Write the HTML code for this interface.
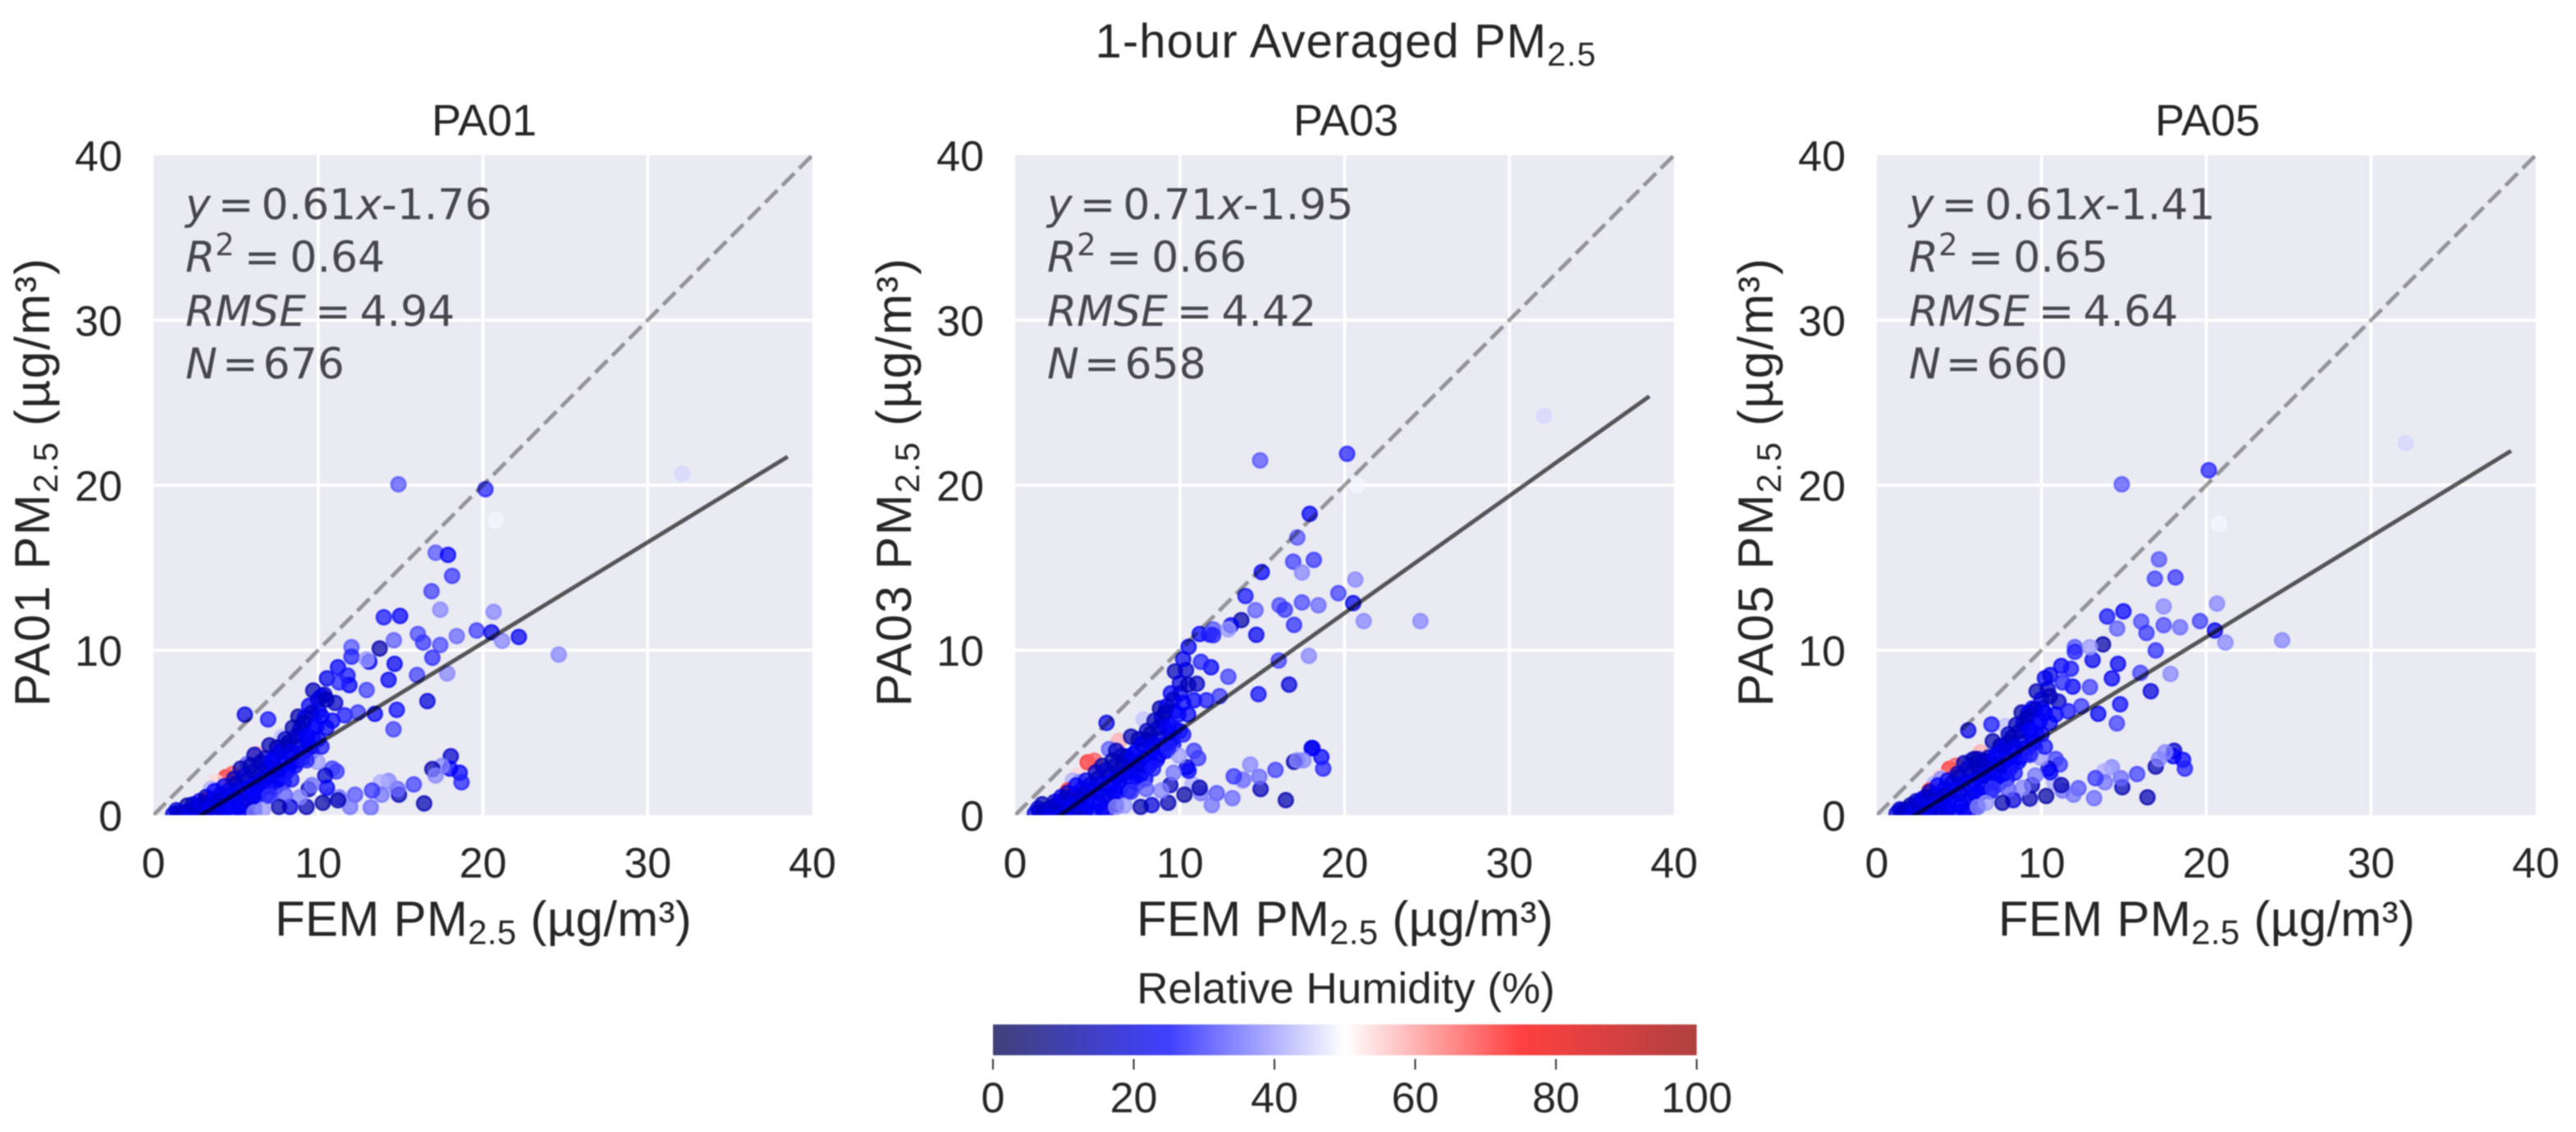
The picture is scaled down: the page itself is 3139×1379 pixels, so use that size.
<!DOCTYPE html>
<html lang="en">
<head>
<meta charset="utf-8">
<title>1-hour Averaged PM2.5</title>
<style>
html,body{margin:0;padding:0;background:#fff;width:3139px;height:1379px;overflow:hidden}
svg{display:block;filter:blur(0.9px)}
text{font-family:"Liberation Sans",Arial,sans-serif;fill:#262626}
.stat{font-family:"DejaVu Sans",sans-serif;font-size:52px;fill:#46464c}
.axlab{font-size:60px;letter-spacing:0.3px;text-anchor:middle}
.ylab{font-size:60px;letter-spacing:1.6px;text-anchor:middle}
.ptitle{font-size:54px;text-anchor:middle}
.tick{font-size:52px}
</style>
</head>
<body>
<svg id="figure" xmlns="http://www.w3.org/2000/svg" width="3139" height="1379" viewBox="0 0 3139 1379">
  <rect x="0" y="0" width="3139" height="1379" fill="#ffffff"/>
  <defs id="defs"></defs>
  <text x="1640" y="70" text-anchor="middle" font-size="58" letter-spacing="1.1">1-hour Averaged PM<tspan dy="10" font-size="41">2.5</tspan></text>

  <g id="panels"></g>

  <g>
    <text class="ptitle" x="590" y="165">PA01</text>
    <text class="axlab" x="589" y="1140">FEM PM<tspan dy="10" font-size="42">2.5</tspan><tspan dy="-10"> (µg/m³)</tspan></text>
    <text class="ylab" transform="translate(60,587) rotate(-90)">PA01 PM<tspan dy="10" font-size="42">2.5</tspan><tspan dy="-10"> (µg/m³)</tspan></text>
    <text class="stat" x="226" y="267"><tspan font-style="italic">y</tspan><tspan dx="9">=</tspan><tspan dx="9">0.61</tspan><tspan font-style="italic">x</tspan>-1.76</text>
    <text class="stat" x="226" y="331"><tspan font-style="italic">R</tspan><tspan dy="-20" font-size="37">2</tspan><tspan dy="20" dx="12">=</tspan><tspan dx="12">0.64</tspan></text>
    <text class="stat" x="226" y="397"><tspan font-style="italic">RMSE</tspan><tspan dx="11">=</tspan><tspan dx="11">4.94</tspan></text>
    <text class="stat" x="226" y="461"><tspan font-style="italic">N</tspan><tspan dx="6">=</tspan><tspan dx="6">676</tspan></text>
  </g>
  <g>
    <text class="ptitle" x="1640" y="165">PA03</text>
    <text class="axlab" x="1639" y="1140">FEM PM<tspan dy="10" font-size="42">2.5</tspan><tspan dy="-10"> (µg/m³)</tspan></text>
    <text class="ylab" transform="translate(1110,587) rotate(-90)">PA03 PM<tspan dy="10" font-size="42">2.5</tspan><tspan dy="-10"> (µg/m³)</tspan></text>
    <text class="stat" x="1276" y="267"><tspan font-style="italic">y</tspan><tspan dx="9">=</tspan><tspan dx="9">0.71</tspan><tspan font-style="italic">x</tspan>-1.95</text>
    <text class="stat" x="1276" y="331"><tspan font-style="italic">R</tspan><tspan dy="-20" font-size="37">2</tspan><tspan dy="20" dx="12">=</tspan><tspan dx="12">0.66</tspan></text>
    <text class="stat" x="1276" y="397"><tspan font-style="italic">RMSE</tspan><tspan dx="11">=</tspan><tspan dx="11">4.42</tspan></text>
    <text class="stat" x="1276" y="461"><tspan font-style="italic">N</tspan><tspan dx="6">=</tspan><tspan dx="6">658</tspan></text>
  </g>
  <g>
    <text class="ptitle" x="2690" y="165">PA05</text>
    <text class="axlab" x="2689" y="1140">FEM PM<tspan dy="10" font-size="42">2.5</tspan><tspan dy="-10"> (µg/m³)</tspan></text>
    <text class="ylab" transform="translate(2160,587) rotate(-90)">PA05 PM<tspan dy="10" font-size="42">2.5</tspan><tspan dy="-10"> (µg/m³)</tspan></text>
    <text class="stat" x="2326" y="267"><tspan font-style="italic">y</tspan><tspan dx="9">=</tspan><tspan dx="9">0.61</tspan><tspan font-style="italic">x</tspan>-1.41</text>
    <text class="stat" x="2326" y="331"><tspan font-style="italic">R</tspan><tspan dy="-20" font-size="37">2</tspan><tspan dy="20" dx="12">=</tspan><tspan dx="12">0.65</tspan></text>
    <text class="stat" x="2326" y="397"><tspan font-style="italic">RMSE</tspan><tspan dx="11">=</tspan><tspan dx="11">4.64</tspan></text>
    <text class="stat" x="2326" y="461"><tspan font-style="italic">N</tspan><tspan dx="6">=</tspan><tspan dx="6">660</tspan></text>
  </g>

  <g id="colorbar">
    <text x="1640" y="1222" text-anchor="middle" font-size="53">Relative Humidity (%)</text>
  </g>
</svg>
<script>
// ---- chart data ----
const panelKeys = ['pa01', 'pa03', 'pa05'];
const axisTicks = [0, 10, 20, 30, 40];
const gridTicks = [10, 20, 30];
const colorbarTicks = [0, 20, 40, 60, 80, 100];
const fitSlope = [0.61, 0.71, 0.61];
const fitIntercept = [-1.76, -1.95, -1.41];
const fitRange = [1, 38.5];
const identityRange = [0, 40];

const femX = [
  4.4,4.8,3.8,3.5,3.2,6.3,5.6,7.8,3.9,5.7,
  1.2,1.5,1.8,2.05,2.0,1.65,2.3,2.6,2.6,2.9,3.0,3.3,3.6,3.8,4.0,4.1,4.3,4.5,4.6,4.8,5.0,5.0,
  5.3,5.3,5.4,5.6,5.8,6.0,6.13,6.2,6.4,6.6,6.7,6.8,7.0,7.04,7.3,7.4,7.6,7.8,8.0,8.1,
  8.3,8.46,8.6,8.8,8.79,9.0,9.2,9.4,9.45,9.7,9.7,9.6,9.7,10.03,10.37,10.2,11.03,10.86,11.61,10.53,
  11.2,11.78,11.89,11.28,12.41,5.9,6.5,7.5,8.0,8.9,9.2,
  1.4,2.2,2.4,2.8,3.1,3.2,3.5,3.7,3.9,4.1,4.3,4.4,4.7,4.9,5.1,5.2,5.5,5.5,5.7,5.9,
  6.1,6.1,6.3,6.5,6.9,6.9,7.1,7.2,7.4,7.6,7.7,7.9,8.2,8.2,8.4,8.7,8.7,9.0,9.1,9.3,
  9.5,9.6,9.9,10.0,10.0,10.2,10.5,10.5,
  18.05,18.59,18.7,18.0,17.5,16.93,17.13,15.8,16.43,14.9,14.82,14.27,13.8,13.85,13.27,13.19,12.24,11.94,11.28,10.78,
  11.11,10.86,10.42,10.53,10.28,11.2,9.29,9.42,9.62,8.87,8.29,7.96,7.62,6.63,7.04,6.13,8.37,9.95,10.2,9.29,
  14.87,20.15,20.77,32.1,17.13,17.88,18.13,16.88,17.41,13.98,14.97,20.65,19.62,20.52,22.18,21.16,24.6,18.41,17.41,16.05,
  16.37,16.93,14.59,13.73,14.64,12.02,12.02,13.1,12.93,16,17.83,14.27,12.94,13.44,14.77,14.57,16.63,6.96,5.55
];
const humidity = [
  70,66,54,42,70,58,58,44,38,34,
  20,22,14,12,22,14,20,16,24,20,18,24,22,16,24,22,14,24,20,24,18,15,
  14,24,22,20,14,24,16,18,24,14,22,16,24,14,22,24,24,22,20,24,
  22,14,24,22,13,24,24,22,24,28,27,26,15,22,18,22,17,25,27,22,
  25,27,24,28,30,14,16,14,16,20,24,
  18,22,16,22,20,16,22,24,20,18,22,24,22,16,24,22,24,18,22,24,
  20,16,24,22,24,18,22,24,24,20,22,24,24,14,22,24,16,22,14,24,
  22,16,24,20,24,24,15,24,
  18,25,28,24,38,14,38,31,14,15,35,38,42,36,30,35,33,36,36,42,
  30,31,18,25,12,14,15,16,36,38,20,34,14,40,30,38,27,40,27,28,
  33,28,49,46,33,25,30,31,38,27,25,38,31,22,23,38,38,35,32,32,
  30,29,34,13,23,33,28,23,40,31,38,24,31,24,26,31,20,27,21
];
const pa01Y = [
  2.3,2.5,2.0,1.6,0.9,3.7,0.15,4.75,1.5,3.1,
  .05,.15,.05,.58,.2,0,.25,.1,.5,.15,.7,.3,.95,.3,.6,1.25,.2,.8,1.5,.1,1.0,1.9,
  2.82,.25,.65,1.45,2.2,1.05,3.65,1.9,1.45,2.7,2.2,3.45,1.75,4.23,2.7,3.55,2.2,3.15,4.15,2.65,
  3.6,5.3,3.0,4.15,5.97,4.9,3.5,4.4,6.63,5.3,4.64,3.85,7.55,6.3,7.3,7.2,6.8,5.72,6.05,8.29,
  8.96,8.46,7.88,8.04,6.22,3.0,3.2,4.1,4.6,5.2,5.9,
  .3,.05,.65,.85,.05,1.1,.5,1.45,.05,.95,1.75,.45,1.2,2.2,.5,1.55,.05,2.35,.9,1.7,
  .45,2.65,1.15,2.05,1.25,2.95,2.35,3.3,1.7,2.75,3.85,2.0,2.9,4.4,3.85,3.3,4.8,3.8,5.6,4.8,
  4.1,6.2,5.4,7.0,4.6,6.0,7.0,5.3,
  3.57,2.57,1.99,2.82,2.98,2.79,2.4,1.86,.71,1.24,1.58,2.07,1.99,1.24,1.49,.46,1.24,.5,1.08,1.16,
  2.65,2.82,2.4,1.66,.75,.9,.5,1.58,1.82,1.08,.5,1.24,.5,.33,1.16,.17,2.16,3.23,4.15,3.32,
  20.05,19.75,17.86,20.7,15.9,15.77,14.5,13.57,12.45,11.99,12.07,12.32,11.19,11.08,10.8,10.56,9.73,10.85,10.31,10.98,
  10.46,9.54,10.6,10.1,9.17,10.18,9.6,9.3,9.44,8.49,8.59,8.2,7.58,6.14,6.38,5.2,6.91,5.8,6.09
];
const pa03Y = [
  3.2,3.3,2.4,2.1,1.5,4.5,0.3,5.8,2.0,4.0,
  .1,.2,.1,.4,.25,.66,.5,.25,.7,.2,1.0,.45,1.25,.5,.8,1.6,.35,1.1,1.85,.25,1.35,2.2,
  2.99,.35,.95,1.8,2.5,1.35,3.9,2.3,1.75,3.1,2.6,3.55,2.1,4.76,3.0,3.95,2.45,3.45,4.55,2.95,
  3.95,5.72,3.35,4.6,6.47,5.5,3.9,5.0,7.38,6.3,5.2,4.3,8.71,7.38,8.79,9.45,7.96,6.96,6.96,10.2,
  10.98,10.95,8.96,9.29,7.21,3.3,3.6,4.6,5.1,5.9,6.6,
  .4,.05,.8,1.1,.1,1.35,.7,1.8,.15,1.2,2.1,.6,1.55,2.6,.7,1.9,.15,2.7,1.15,2.05,
  .65,3.0,1.4,2.4,1.5,3.3,2.7,3.7,1.95,3.1,4.3,2.2,3.2,4.9,4.3,3.6,5.3,4.25,6.2,5.4,
  4.6,7.0,6.1,8.0,5.1,6.8,7.9,6.1,
  4.06,3.52,2.82,4.06,3.32,3.23,3.32,2.74,.91,1.58,2.32,3.07,2.07,2.16,2.35,1.03,1.33,.61,1.33,1.86,
  3.45,3.9,2.9,2.69,1.24,1.66,.75,1.82,2.57,1.49,.61,1.58,.5,.58,1.41,.5,2.82,3.6,4.89,4.06,
  21.5,21.9,20.0,24.2,16.83,18.26,15.47,15.36,14.7,13.28,14.73,14.28,13.45,12.85,null,11.76,11.76,12.72,12.89,12.72,
  12.45,11.53,12.42,11.82,10.93,11.26,10.9,11.5,11.26,9.37,9.65,null,8.39,null,7.33,null,7.91,null,5.59
];
const pa05Y = [
  2.8,3.0,2.3,1.9,1.5,3.8,0.3,5.4,2.2,3.3,
  .1,.25,.35,.6,.2,.15,.55,.3,.8,.3,1.1,.4,1.25,.45,.8,1.6,.3,1.05,1.95,.2,1.3,2.3,
  3.15,.25,.9,1.85,2.6,1.3,3.4,2.3,1.7,3.0,2.6,3.5,2.0,4.48,3.0,3.8,2.4,3.4,4.4,2.85,
  3.85,5.47,3.25,4.4,6.22,5.3,3.75,4.8,6.47,5.47,4.9,4.1,7.5,6.47,7.63,8.3,6.88,6.1,6.3,8.49,
  9.04,8.87,7.79,8.04,6.6,3.4,3.3,4.2,4.9,5.6,6.2,
  .35,.1,.85,1.0,.1,1.4,.65,1.8,.1,1.15,2.1,.55,1.5,2.5,.6,1.9,.1,2.8,1.05,2.05,
  .5,3.0,1.35,2.4,1.45,3.25,2.6,3.6,1.9,3.05,4.1,2.2,3.1,4.7,4.1,3.5,5.1,4.05,5.9,5.2,
  4.4,6.4,5.7,7.0,4.9,6.2,7.2,5.6,
  3.9,3.35,2.82,3.57,3.81,2.94,3.4,2.49,1.08,1.69,2.24,2.9,2.65,1.99,2.24,1.03,1.63,1.24,1.49,1.99,
  3.07,3.4,2.82,2.6,1.16,1.82,1.0,1.82,2.4,1.66,.91,1.58,.75,.75,1.58,.5,2.57,3.48,4.15,3.65,
  20.05,20.9,17.65,22.55,15.5,null,14.41,14.33,12.65,12.04,12.35,12.82,11.76,11.19,null,10.46,10.6,11.39,11.51,11.73,
  11.04,9.98,11.31,10.35,9.17,10.18,9.9,9.4,10.18,8.62,8.56,8.29,7.76,6.14,6.72,5.56,7.51,5.5,5.14
];
const panelSeries = [pa01Y, pa03Y, pa05Y];

// ---- layout ----
const panelLeft = [187, 1237, 2287];
const panelWidth = 803;
const panelTop = 189;
const panelHeight = 804;
const tickMax = 40;

// ---- colormap: seismic ----
const cmapPositions = [0, 25, 50, 75, 100];
const cmapRed = [0, 0, 255, 255, 150];
const cmapGreen = [0, 0, 255, 0, 0];
const cmapBlue = [76, 255, 255, 0, 0];

function colorFor(v) {
  let i = 0;
  while (i < cmapPositions.length - 2 && v > cmapPositions[i + 1]) i++;
  const t = (v - cmapPositions[i]) / (cmapPositions[i + 1] - cmapPositions[i]);
  const mix = (a) => Math.round(a[i] + (a[i + 1] - a[i]) * t);
  return 'rgb(' + mix(cmapRed) + ',' + mix(cmapGreen) + ',' + mix(cmapBlue) + ')';
}
function xScale(p, v) { return panelLeft[p] + v / tickMax * panelWidth; }
function yScale(v) { return panelTop + panelHeight - v / tickMax * panelHeight; }

const NS = 'http://www.w3.org/2000/svg';
function make(tag, parent, attrs) {
  const e = document.createElementNS(NS, tag);
  for (const k in attrs) e.setAttribute(k, attrs[k]);
  parent.appendChild(e);
  return e;
}

const panelsRoot = document.getElementById('panels');
const defs = document.getElementById('defs');

panelKeys.forEach(function (key, p) {
  const clip = make('clipPath', defs, { id: 'clip-' + key });
  make('rect', clip, { x: panelLeft[p], y: panelTop, width: panelWidth, height: panelHeight });

  const g = make('g', panelsRoot, {});
  
  

  const bg = make('rect', g, { x: panelLeft[p], y: panelTop, width: panelWidth, height: panelHeight, fill: '#eaeaf2' });
  
  

  gridTicks.forEach(function (t) {
    const vl = make('line', g, { x1: xScale(p, t), x2: xScale(p, t), y1: panelTop, y2: panelTop + panelHeight, stroke: '#ffffff', 'stroke-width': 3.8 });
    
    
    const hl = make('line', g, { x1: panelLeft[p], x2: panelLeft[p] + panelWidth, y1: yScale(t), y2: yScale(t), stroke: '#ffffff', 'stroke-width': 3.8 });
    
    
  });

  const plot = make('g', g, { 'clip-path': 'url(#clip-' + key + ')' });
  
  

  const ys = panelSeries[p];
  femX.forEach(function (x, i) {
    if (ys[i] === null) return;
    const c = colorFor(humidity[i]);
    const pt = make('circle', plot, {
      cx: xScale(p, x), cy: yScale(ys[i]), r: 8.8,
      fill: c, 'fill-opacity': 0.72, stroke: c, 'stroke-opacity': 0.72, 'stroke-width': 2.6
    });
    
    
  });

  const identity = make('line', plot, {
    x1: xScale(p, identityRange[0]), y1: yScale(identityRange[0]),
    x2: xScale(p, identityRange[1]), y2: yScale(identityRange[1]),
    stroke: '#000000', 'stroke-opacity': 0.37, 'stroke-width': 4.8, 'stroke-dasharray': '21 8.3'
  });
  
  

  const fit = make('line', plot, {
    x1: xScale(p, fitRange[0]), y1: yScale(fitSlope[p] * fitRange[0] + fitIntercept[p]),
    x2: xScale(p, fitRange[1]), y2: yScale(fitSlope[p] * fitRange[1] + fitIntercept[p]),
    stroke: '#000000', 'stroke-opacity': 0.64, 'stroke-width': 5
  });
  
  

  axisTicks.forEach(function (t) {
    const xt = make('text', g, { class: 'tick', x: xScale(p, t), y: 1069, 'text-anchor': 'middle' });
    xt.textContent = String(t);
    
    
    const yt = make('text', g, { class: 'tick', x: panelLeft[p] - 38, y: yScale(t) + 19, 'text-anchor': 'end' });
    yt.textContent = String(t);
    
    
  });
});

// ---- colorbar ----
const cbarLeft = 1210;
const cbarRight = 2067.5;
const cbarTop = 1248;
const cbarBottom = 1285.5;
function cbarX(v) { return cbarLeft + v / 100 * (cbarRight - cbarLeft); }

const grad = make('linearGradient', defs, { id: 'rh-gradient', x1: 0, x2: 1, y1: 0, y2: 0 });
cmapPositions.forEach(function (pos) {
  make('stop', grad, { offset: pos + '%', 'stop-color': colorFor(pos), 'stop-opacity': 0.75 });
});
const cbarRoot = document.getElementById('colorbar');
const cbarRect = make('rect', cbarRoot, { x: cbarLeft, y: cbarTop, width: cbarRight - cbarLeft, height: cbarBottom - cbarTop, fill: 'url(#rh-gradient)' });



colorbarTicks.forEach(function (t) {
  const mark = make('line', cbarRoot, { x1: cbarX(t), x2: cbarX(t), y1: 1290, y2: 1303, stroke: '#333333', 'stroke-width': 2 });
  
  
  const lab = make('text', cbarRoot, { class: 'tick', x: cbarX(t), y: 1355, 'text-anchor': 'middle' });
  lab.textContent = String(t);
  
  
});
</script>
</body>
</html>
